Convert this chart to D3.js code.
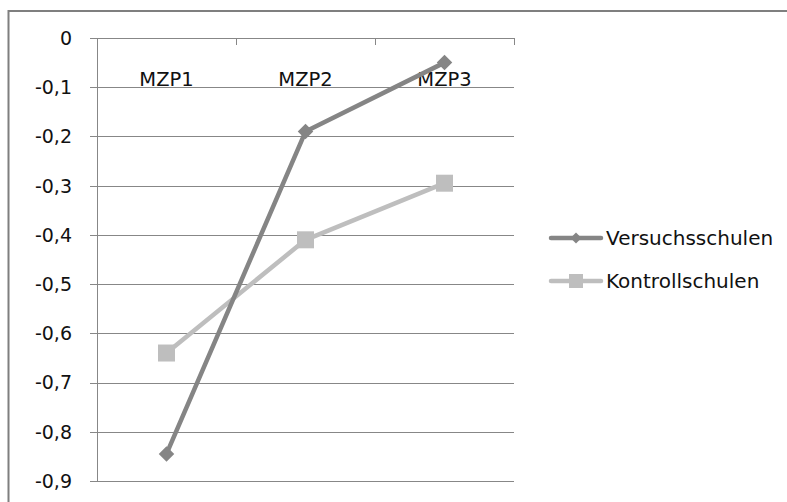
<!DOCTYPE html>
<meta charset="utf-8">
<html>
<head>
<script src="https://d3js.org/d3.v7.min.js"></script>
<style>
    body { margin: 0; background: #fff; }
    svg { display: block; font-family: "DejaVu Sans", sans-serif; }
</style>
</head>
<body>
<svg id="chart"></svg>
<script>

var categories = ["MZP1", "MZP2", "MZP3"]
var seriesNames = ["Versuchsschulen", "Kontrollschulen"]
var versuchs = [-0.845, -0.19, -0.05]
var kontroll = [-0.64, -0.41, -0.295]
var yTicks = [0, -0.1, -0.2, -0.3, -0.4, -0.5, -0.6, -0.7, -0.8, -0.9]

var width = 787, height = 502
var svg = d3.select("#chart").attr("width", width).attr("height", height)

// outer chart frame (runs off the right and bottom edge)
svg.append("rect")
    .attr("x", 8.5).attr("y", 11)
    .attr("width", 900).attr("height", 600)
    .attr("fill", "none").attr("stroke", "#7f7f7f").attr("stroke-width", 2)

var plotLeft = 97, plotRight = 514, plotTop = 38, plotBottom = 481

var x = d3.scaleBand().domain(categories).range([plotLeft, plotRight])
var y = d3.scaleLinear().domain([0, -0.9]).range([plotTop, plotBottom])

var fmt = d => d === 0 ? "0" : d.toFixed(1).replace(".", ",")

// gridlines
svg.append("g")
    .selectAll("line")
    .data(yTicks)
    .enter()
    .append("line")
    .attr("x1", plotLeft - 7).attr("x2", plotRight)
    .attr("y1", d => Math.round(y(d)) + 0.5).attr("y2", d => Math.round(y(d)) + 0.5)
    .attr("stroke", "#878787")

// y axis line
svg.append("line")
    .attr("x1", plotLeft + 0.5).attr("x2", plotLeft + 0.5)
    .attr("y1", plotTop).attr("y2", plotBottom)
    .attr("stroke", "#878787")

// y labels
svg.append("g")
    .selectAll("text")
    .data(yTicks)
    .enter()
    .append("text")
    .text(fmt)
    .attr("x", 72)
    .attr("y", d => y(d))
    .attr("dy", "0.36em")
    .attr("text-anchor", "end")
    .attr("font-size", "19px")
    .attr("fill", "#111")

// category ticks on the top axis
var tickXs = categories.map(c => x(c)).concat([plotRight])
svg.append("g")
    .selectAll("line")
    .data(tickXs)
    .enter()
    .append("line")
    .attr("x1", d => Math.round(d) + 0.5).attr("x2", d => Math.round(d) + 0.5)
    .attr("y1", plotTop).attr("y2", plotTop + 7)
    .attr("stroke", "#878787")

// category labels
svg.append("g")
    .selectAll("text")
    .data(categories)
    .enter()
    .append("text")
    .text(d => d)
    .attr("x", d => x(d) + x.bandwidth() / 2)
    .attr("y", 86)
    .attr("text-anchor", "middle")
    .attr("font-size", "19.5px")
    .attr("fill", "#111")

var series = [
    {name: seriesNames[0], values: versuchs, color: "#858585", shape: "diamond"},
    {name: seriesNames[1], values: kontroll, color: "#bebebe", shape: "square"}
]

var cx = (d, i) => x(categories[i]) + x.bandwidth() / 2

function marker(g, s, px, py) {
    if (s.shape === "diamond") {
        g.append("path")
            .attr("d", d3.symbol().type(d3.symbolSquare).size(120))
            .attr("transform", "translate(" + px + "," + py + ") rotate(45)")
            .attr("fill", s.color)
    } else {
        g.append("rect")
            .attr("x", px - 8.5).attr("y", py - 8.5)
            .attr("width", 17).attr("height", 17)
            .attr("fill", s.color)
    }
}

// draw the light series first so the dark one is on top
series.slice().reverse().forEach(function(s) {
    var g = svg.append("g")
    g.append("path")
        .datum(s.values)
        .attr("d", d3.line().x(cx).y(d => y(d)))
        .attr("fill", "none")
        .attr("stroke", s.color)
        .attr("stroke-width", 4.5)
        .attr("stroke-linejoin", "round")
    s.values.forEach((v, i) => marker(g, s, cx(v, i), y(v)))
})

// legend
var legendY = [238, 281]
series.forEach(function(s, i) {
    var g = svg.append("g")
    g.append("line")
        .attr("x1", 551).attr("x2", 601)
        .attr("y1", legendY[i]).attr("y2", legendY[i])
        .attr("stroke", s.color).attr("stroke-width", 4.5)
        .attr("stroke-linecap", "round")
    if (s.shape === "diamond") {
        g.append("path")
            .attr("d", d3.symbol().type(d3.symbolSquare).size(60))
            .attr("transform", "translate(576," + legendY[i] + ") rotate(45)")
            .attr("fill", s.color)
    } else {
        g.append("rect")
            .attr("x", 569).attr("y", legendY[i] - 7)
            .attr("width", 14).attr("height", 14)
            .attr("fill", s.color)
    }
    g.append("text")
        .text(s.name)
        .attr("x", 606)
        .attr("y", legendY[i])
        .attr("dy", "0.36em")
        .attr("font-size", "20px")
        .attr("fill", "#111")
})
</script>
</body>
</html>
